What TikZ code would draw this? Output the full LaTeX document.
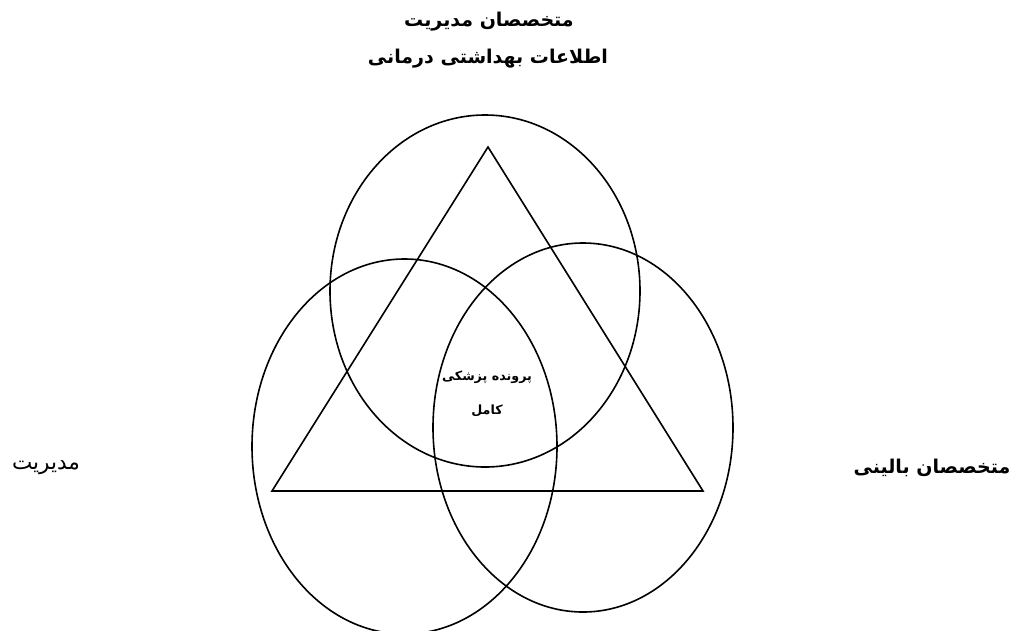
\documentclass[tikz,border=0pt]{standalone}
\usepackage{fontspec}
\newfontfamily\farsi[Script=Arabic]{DejaVu Sans}
\TeXXeTstate=1
\tikzset{
  ring/.style={line width=1.6pt},
  title/.style={font=\farsi\bfseries\fontsize{19}{22}\selectfont},
  label/.style={font=\farsi\fontsize{21.5}{25}\selectfont},
  core/.style={font=\farsi\bfseries\fontsize{12.7}{15}\selectfont}
}
\begin{document}
\begin{tikzpicture}[x=1pt,y=-1pt]
\useasboundingbox (0,0) rectangle (1013,630);
\draw[ring] (485,291) ellipse (155 and 176);
\draw[ring] (404.5,446.5) ellipse (152.5 and 187.5);
\draw[ring] (583,427.5) ellipse (150 and 184.5);
\coordinate (apex) at (488,147);
\coordinate (baseL) at (272,491);
\coordinate (baseR) at (703,491);
\draw[ring] (apex) -- (baseL) -- (baseR) -- cycle;
\node[title] (top1) at (489,22) {\beginR متخصصان مدیریت\endR};
\node[title] (top2) at (488,59) {\beginR اطلاعات بهداشتی درمانی\endR};
\node[label] (left) at (46,468) {\beginR مدیریت\endR};
\node[title] (right) at (932,468) {\beginR متخصصان بالینی\endR};
\node[core] (mid1) at (487,377) {\beginR پرونده پزشکی\endR};
\node[core] (mid2) at (487,411) {\beginR کامل\endR};
\end{tikzpicture}
\end{document}
